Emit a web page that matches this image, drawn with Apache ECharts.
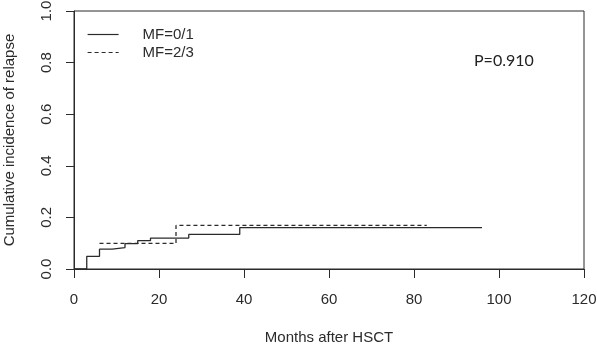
<!DOCTYPE html>
<html>
<head>
<meta charset="utf-8">
<script src="https://cdn.jsdelivr.net/npm/echarts@6/dist/echarts.min.js"></script>
<style>
  html, body { margin: 0; padding: 0; background: #fff; }
  #chart { width: 597px; height: 344px; }
</style>
</head>
<body>
<div id="chart"></div>
<script>
var chart = echarts.init(document.getElementById('chart'));

// step curves (months, cumulative incidence)
var mf01Months = [0, 3, 6, 9, 12, 15, 18, 27, 39, 96];
var mf01Values = [0, 0.049, 0.077, 0.083, 0.098, 0.110, 0.120, 0.134, 0.160, 0.160];
var mf23Months = [6, 24, 83];
var mf23Values = [0.099, 0.169, 0.169];

var seriesNames = ['MF=0/1', 'MF=2/3'];
var pValue = 'P=0.910';

function pairs(xs, ys) {
    var out = [];
    for (var i = 0; i < xs.length; i++) {
        out.push([xs[i], ys[i]]);
    }
    return out;
}

var ink = '#2b2b2b';
var font = 'Liberation Sans, Arial, sans-serif';

option = {
    animation: false,
    grid: {
        left: 74,
        right: 13,
        top: 11,
        bottom: 75,
        outerBoundsMode: 'none',
        containLabel: false,
        show: true,
        borderColor: ink,
        borderWidth: 1
    },
    legend: {
        orient: 'vertical',
        left: 82,
        top: 22,
        itemWidth: 31,
        itemHeight: 10,
        itemGap: 3,
        itemStyle: { opacity: 0 },
        lineStyle: { width: 1.2 },
        textStyle: {
            fontFamily: font,
            fontSize: 15,
            color: ink,
            padding: [0, 0, 0, 19]
        },
        data: seriesNames
    },
    xAxis: {
        type: 'value',
        min: 0,
        max: 120,
        interval: 20,
        name: 'Months after HSCT',
        nameLocation: 'middle',
        nameGap: 61,
        nameTextStyle: { fontFamily: font, fontSize: 15, color: ink },
        splitLine: { show: false },
        axisLine: { lineStyle: { color: ink, width: 1 } },
        axisTick: { inside: false, length: 9, lineStyle: { color: ink } },
        axisLabel: { margin: 23, fontFamily: font, fontSize: 15, color: ink }
    },
    yAxis: {
        type: 'value',
        min: 0,
        max: 1,
        interval: 0.2,
        name: 'Cumulative incidence of relapse',
        nameLocation: 'middle',
        nameGap: 57,
        nameTextStyle: { fontFamily: font, fontSize: 15, color: ink },
        splitLine: { show: false },
        axisLine: { show: true, lineStyle: { color: ink, width: 1 } },
        axisTick: { show: true, inside: false, length: 8, lineStyle: { color: ink } },
        axisLabel: {
            rotate: 90,
            margin: 20,
            fontFamily: font,
            fontSize: 15,
            color: ink,
            formatter: function (v) { return v.toFixed(1); }
        }
    },
    graphic: [{
        type: 'text',
        left: 474,
        top: 53,
        style: {
            text: pValue,
            font: '16px Lato, sans-serif',
            fill: '#222'
        }
    }],
    series: [
        {
            name: seriesNames[0],
            type: 'line',
            step: 'end',
            symbol: 'none',
            lineStyle: { color: ink, width: 1.3, type: 'solid' },
            itemStyle: { color: ink },
            data: pairs(mf01Months, mf01Values)
        },
        {
            name: seriesNames[1],
            type: 'line',
            step: 'end',
            symbol: 'none',
            lineStyle: { color: ink, width: 1.3, type: [4, 3] },
            itemStyle: { color: ink },
            data: pairs(mf23Months, mf23Values)
        }
    ]
};

option && chart.setOption(option);
</script>
</body>
</html>
